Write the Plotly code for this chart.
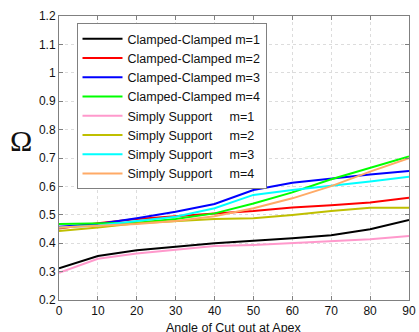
import plotly.graph_objects as go

angles = [0, 10, 20, 30, 40, 50, 60, 70, 80, 90]

cc_m1 = [0.312, 0.355, 0.375, 0.388, 0.400, 0.409, 0.417, 0.428, 0.449, 0.482]
cc_m2 = [0.452, 0.470, 0.485, 0.496, 0.505, 0.513, 0.526, 0.534, 0.543, 0.560]
cc_m3 = [0.458, 0.468, 0.488, 0.511, 0.538, 0.587, 0.613, 0.628, 0.642, 0.654]
cc_m4 = [0.468, 0.469, 0.472, 0.485, 0.505, 0.540, 0.579, 0.625, 0.664, 0.705]
ss_m1 = [0.296, 0.345, 0.364, 0.376, 0.390, 0.394, 0.400, 0.407, 0.414, 0.425]
ss_m2 = [0.443, 0.455, 0.470, 0.478, 0.485, 0.488, 0.499, 0.513, 0.525, 0.525]
ss_m3 = [0.455, 0.462, 0.478, 0.493, 0.523, 0.570, 0.587, 0.601, 0.617, 0.634]
ss_m4 = [0.455, 0.462, 0.468, 0.478, 0.495, 0.523, 0.558, 0.601, 0.652, 0.699]

series = [
    ("Clamped-Clamped m=1", cc_m1, "#000000"),
    ("Clamped-Clamped m=2", cc_m2, "#ff0000"),
    ("Clamped-Clamped m=3", cc_m3, "#0000ff"),
    ("Clamped-Clamped m=4", cc_m4, "#00ff00"),
    ("Simply Support\u00a0\u00a0\u00a0\u00a0\u00a0m=1", ss_m1, "#ff99cc"),
    ("Simply Support\u00a0\u00a0\u00a0\u00a0\u00a0m=2", ss_m2, "#bfbf00"),
    ("Simply Support\u00a0\u00a0\u00a0\u00a0\u00a0m=3", ss_m3, "#00ffff"),
    ("Simply Support\u00a0\u00a0\u00a0\u00a0\u00a0m=4", ss_m4, "#ffaa66"),
]

y_ticks = [0.2, 0.3, 0.4, 0.5, 0.6, 0.7, 0.8, 0.9, 1.0, 1.1, 1.2]
y_tick_text = ["0.2", "0.3", "0.4", "0.5", "0.6", "0.7", "0.8", "0.9", "1", "1.1", "1.2"]
x_ticks = [0, 10, 20, 30, 40, 50, 60, 70, 80, 90]

fig = go.Figure()
for name, vals, color in series:
    fig.add_trace(go.Scatter(x=angles, y=vals, mode="lines", name=name,
                             line=dict(color=color, width=2)))

axis_common = dict(
    showline=True, linecolor="#808080", linewidth=1, mirror="ticks",
    ticks="inside", ticklen=4, tickcolor="#808080",
    showgrid=True, gridcolor="#dcdcdc", griddash="dot", gridwidth=1,
    zeroline=False, ticklabeloverflow="allow",
    tickfont=dict(family="Liberation Sans, Arial", size=12, color="#111"),
)

fig.update_layout(
    width=419, height=332,
    margin=dict(l=59, r=3, t=16, b=32),
    paper_bgcolor="white", plot_bgcolor="white",
    font=dict(family="Liberation Sans, Arial", size=12, color="#111"),
    xaxis=dict(range=[0, 90], tickvals=x_ticks, **axis_common),
    yaxis=dict(range=[0.2, 1.2], tickvals=y_ticks, ticktext=y_tick_text, **axis_common),
    legend=dict(x=0.05, y=0.975, xanchor="left", yanchor="top",
                bgcolor="white", bordercolor="#808080", borderwidth=1,
                font=dict(family="Liberation Sans, Arial", size=12.5, color="#111"),
                itemwidth=40, tracegroupgap=0),
    showlegend=True,
)

fig.add_annotation(text="Ω", xref="paper", yref="paper", x=-0.11, y=0.56,
                   xanchor="center", yanchor="middle", showarrow=False,
                   font=dict(family="Liberation Serif, Times New Roman", size=30, color="#111"))
fig.add_annotation(text="Angle of Cut out at Apex", xref="paper", yref="paper",
                   x=0.5, y=-0.066, xanchor="center", yanchor="top", showarrow=False,
                   font=dict(family="Liberation Sans, Arial", size=12.5, color="#111"))

fig.write_html("out.html")
